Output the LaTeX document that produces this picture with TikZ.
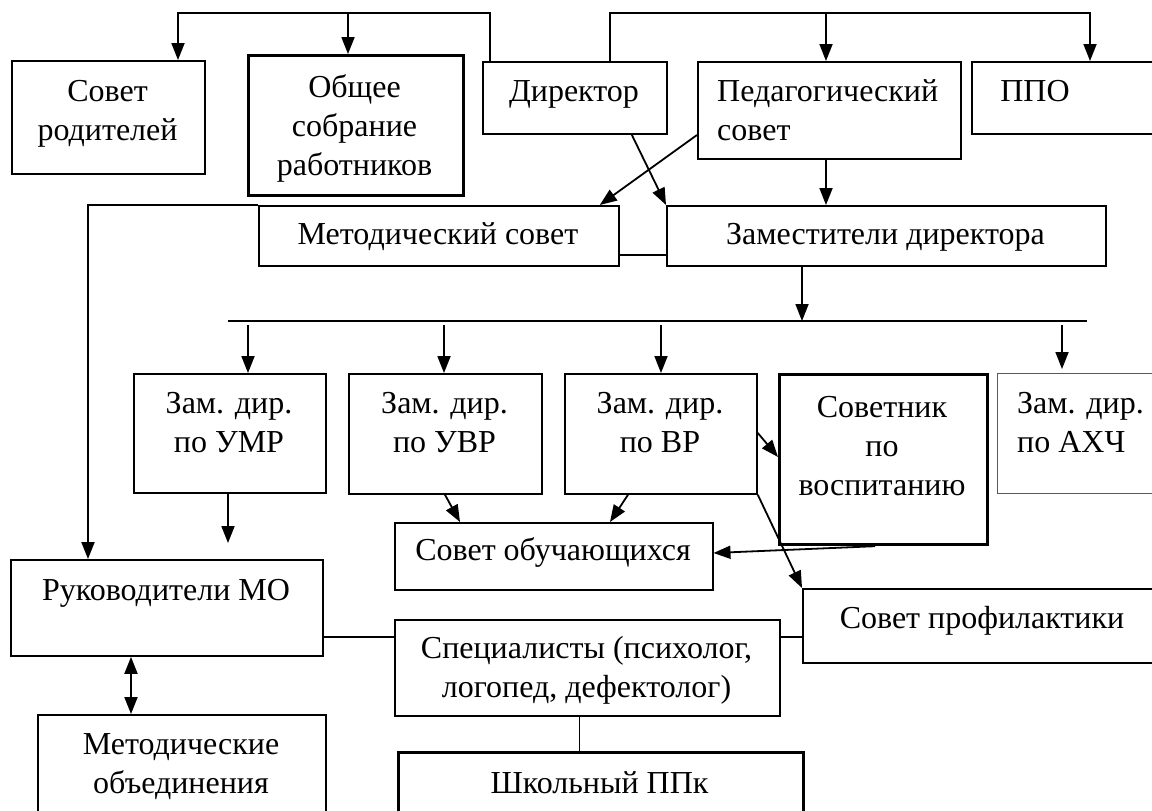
\documentclass[tikz,border=0pt]{standalone}
\usepackage{fontspec}
\setmainfont{Liberation Serif}
\usetikzlibrary{arrows.meta}
\newcommand\mystrut{\rule{0pt}{28pt}}
\begin{document}
\begin{tikzpicture}[x=1pt,y=-1pt,
  box/.style={draw, line width=1.8pt, rectangle, inner sep=0pt, anchor=north west},
  thickbox/.style={box, line width=3.2pt},
  txt/.style={inner sep=0pt, font=\fontsize{32}{39}\selectfont},
  ln/.style={line width=1.8pt},
  arr/.style={line width=1.8pt, -{Triangle[length=17pt,width=13pt]}},
  darr/.style={line width=1.8pt, {Triangle[length=17pt,width=13pt]}-{Triangle[length=17pt,width=13pt]}}
]
\useasboundingbox (0,0) rectangle (1152,811);
\fill[white] (0,0) rectangle (1152,811);
\clip (0,0) rectangle (1152,811);

% boxes
\node[box, minimum width=193pt, minimum height=113pt] (sr) at (11,60) {};
\node[thickbox, minimum width=215pt, minimum height=140pt] (os) at (247,54) {};
\node[box, minimum width=184pt, minimum height=72pt] (dir) at (482,61) {};
\node[box, minimum width=263pt, minimum height=97pt] (ped) at (697,61) {};
\node[box, minimum width=199pt, minimum height=72pt] (ppo) at (971,61) {};
\node[box, minimum width=360pt, minimum height=60pt] (ms) at (258,205) {};
\node[box, minimum width=439pt, minimum height=60pt] (zd) at (666,205) {};
\node[box, minimum width=192pt, minimum height=119pt] (umr) at (133,373) {};
\node[box, minimum width=193pt, minimum height=120pt] (uvr) at (348,373) {};
\node[box, minimum width=192pt, minimum height=120pt] (vr) at (564,373) {};
\node[thickbox, minimum width=208pt, minimum height=170pt] (sov) at (778,373) {};
\node[box, draw=black!65, line width=1.3pt, minimum width=173pt, minimum height=120pt] (ahch) at (997,373) {};
\node[box, line width=1.5pt, minimum width=318pt, minimum height=67pt] (so) at (394,522) {};
\node[box, minimum width=312pt, minimum height=96pt] (rmo) at (10,559) {};
\node[box, line width=1.5pt, minimum width=368pt, minimum height=74pt] (sp) at (802,588) {};
\node[box, line width=1.5pt, minimum width=385pt, minimum height=96pt] (spec) at (394,619) {};
\node[box, minimum width=288pt, minimum height=116pt] (mo) at (37,714) {};
\node[thickbox, minimum width=405pt, minimum height=79pt] (shk) at (397,751) {};

% texts (baseline = north + 28)
\node[txt, anchor=north, align=center] (sr-t) at (107.5,73) {\mystrut Совет\\родителей};
\node[txt, anchor=north, align=center] (os-t) at (354.5,69) {\mystrut Общее\\собрание\\работников};
\node[txt, anchor=north] (dir-t) at (574,73) {\mystrut Директор};
\node[txt, anchor=north west, align=left] (ped-t) at (717,73) {\mystrut Педагогический\\совет};
\node[txt, anchor=north] (ppo-t) at (1035,73) {\mystrut ППО};
\node[txt, anchor=north] (ms-t) at (438,216) {\mystrut Методический совет};
\node[txt, anchor=north] (zd-t) at (885.5,216) {\mystrut Заместители директора};
\node[txt, anchor=north, align=center] (umr-t) at (229,385) {\mystrut Зам. дир.\\по УМР};
\node[txt, anchor=north, align=center] (uvr-t) at (444.5,385) {\mystrut Зам. дир.\\по УВР};
\node[txt, anchor=north, align=center] (vr-t) at (660,385) {\mystrut Зам. дир.\\по ВР};
\node[txt, anchor=north, align=center] (sov-t) at (882,389) {\mystrut Советник\\по\\воспитанию};
\node[txt, anchor=north west, align=left] (ahch-t) at (1017,385) {\mystrut Зам. дир.\\по АХЧ};
\node[txt, anchor=north] (so-t) at (553,532) {\mystrut Совет обучающихся};
\node[txt, anchor=north] (rmo-t) at (166,572) {\mystrut Руководители МО};
\node[txt, anchor=north] (sp-t) at (982,600) {\mystrut Совет профилактики};
\node[txt, anchor=north, align=center] (spec-t) at (586.5,630) {\mystrut Специалисты (психолог,\\логопед, дефектолог)};
\node[txt, anchor=north, align=center] (mo-t) at (181,726) {\mystrut Методические\\объединения};
\node[txt, anchor=north] (shk-t) at (599.5,765) {\mystrut Школьный ППк};

% junction coordinates
\coordinate (j1) at (178,13);
\coordinate (j2) at (490,13);
\coordinate (j3) at (348,13);
\coordinate (k1) at (610,13);
\coordinate (k2) at (1090,13);
\coordinate (k3) at (826,13);
\coordinate (b1) at (228,321);
\coordinate (b2) at (1087,321);
\coordinate (bz) at (802,321);
\coordinate (c1) at (248,325);
\coordinate (c2) at (444,325);
\coordinate (c3) at (661,325);
\coordinate (c4) at (1062,325);
\coordinate (c4e) at (1062,369);
\coordinate (L) at (88,205);
\coordinate (u) at (228,543);

% top connectors
\draw[arr] (j2 |- dir.north) -- (j2) -- (j1) -- (j1 |- sr.north);
\draw[arr] (j3) -- (j3 |- os.north);
\draw[arr] (k1 |- dir.north) -- (k1) -- (k2) -- (k2 |- ppo.north);
\draw[arr] (k3) -- (k3 |- ped.north);

% second row connectors
\draw[arr] ([xshift=-36pt]dir.south east) -- (zd.north west);
\draw[arr] ([yshift=-74pt]ped.north west) -- ([xshift=-20pt]ms.north east);
\draw[arr] (ped.south -| k3) -- (k3 |- zd.north);
\draw[ln] ([yshift=12pt]ms.south east) -- ([yshift=12pt]zd.south west);
\draw[arr] (zd.south -| bz) -- (bz);
\draw[ln, line width=1.5pt] (b1) -- (b2);

% bar arrows
\draw[arr] (c1) -- (c1 |- umr.north);
\draw[arr] (c2) -- (c2 |- uvr.north);
\draw[arr] (c3) -- (c3 |- vr.north);
\draw[arr] (c4) -- (c4e);

% left long line
\draw[arr] (ms.north west) -- (L) -- (L |- rmo.north);
\draw[arr] (umr.south -| u) -- (u);
\draw[darr] ([xshift=121pt]rmo.south west) -- ([xshift=94pt]mo.north west);

% middle connectors
\draw[arr] ([xshift=97pt]uvr.south west) -- ([xshift=66pt]so.north west);
\draw[arr] ([xshift=64pt]vr.south west) -- ([xshift=216pt]so.north west);
\draw[arr] ([yshift=-60pt]vr.north east) -- ([yshift=-84pt]sov.north west);
\draw[arr] ([xshift=97pt]sov.south west) -- ([yshift=-31pt]so.north east);
\draw[arr] (vr.south east) -- (sp.north west);

% lower connectors
\draw[ln] ([yshift=-18pt]spec.north west) -- ([yshift=-18pt]spec.north west -| rmo.east);
\draw[ln] ([yshift=-18pt]spec.north east) -- ([yshift=-18pt]spec.north east -| sp.west);
\draw[line width=1pt] ([xshift=185pt]spec.south west) coordinate (q) -- (q |- shk.north);
\end{tikzpicture}
\end{document}
